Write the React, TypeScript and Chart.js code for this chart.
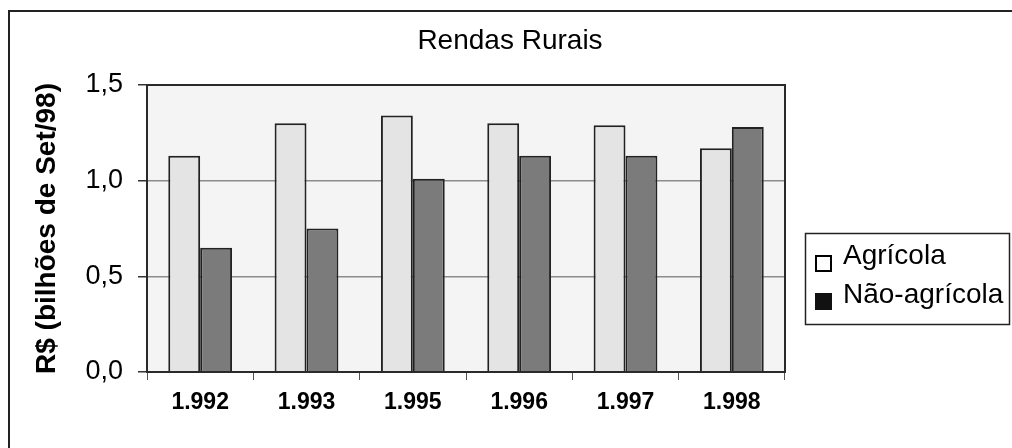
import React, { useEffect, useRef } from 'react';
import { Chart, registerables } from 'chart.js';

Chart.register(...registerables);

const categories = ['1.992', '1.993', '1.995', '1.996', '1.997', '1.998'];
const agricola = [1.13, 1.30, 1.34, 1.30, 1.29, 1.17];
const naoAgricola = [0.65, 0.75, 1.01, 1.13, 1.13, 1.28];
const seriesNames = ['Agrícola', 'Não-agrícola'];
const yTickValues = [0, 0.5, 1.0, 1.5];
const chartTitle = 'Rendas Rurais';
const yAxisTitle = 'R$ (bilhões de Set/98)';

const FONT = '"Liberation Sans", Arial, sans-serif';

const decorPlugin = {
  id: 'decor',
  beforeDraw(chart: any) {
    const { ctx, chartArea: a } = chart;
    ctx.save();
    ctx.fillStyle = '#f4f4f4';
    ctx.fillRect(a.left, a.top, a.right - a.left, a.bottom - a.top);
    ctx.restore();
  },
  afterDraw(chart: any) {
    const { ctx, chartArea: a } = chart;
    ctx.save();
    // plot frame
    ctx.strokeStyle = '#2a2a2a';
    ctx.lineWidth = 2;
    ctx.strokeRect(a.left, a.top, a.right - a.left, a.bottom - a.top);

    // chart title
    ctx.fillStyle = '#000';
    ctx.font = `28px ${FONT}`;
    ctx.textAlign = 'center';
    ctx.textBaseline = 'alphabetic';
    ctx.fillText(chartTitle, 510, 49);

    // legend box
    ctx.strokeStyle = '#222';
    ctx.lineWidth = 1.5;
    ctx.strokeRect(805.5, 233.5, 204, 91);

    ctx.textAlign = 'left';
    ctx.font = `28px ${FONT}`;
    // item 1
    ctx.fillStyle = '#ffffff';
    ctx.fillRect(815, 255, 17, 17);
    ctx.lineWidth = 2;
    ctx.strokeStyle = '#000';
    ctx.strokeRect(816, 256, 15, 15);
    ctx.fillStyle = '#000';
    ctx.fillText(seriesNames[0], 843, 264);
    // item 2
    ctx.fillStyle = '#111';
    ctx.fillRect(815, 293, 17, 17);
    ctx.fillStyle = '#000';
    ctx.fillText(seriesNames[1], 843, 303);
    ctx.restore();
  },
};

export default function App() {
  const canvasRef = useRef<HTMLCanvasElement | null>(null);

  useEffect(() => {
    const canvas = canvasRef.current;
    if (!canvas) return;
    const chart = new Chart(canvas, {
      type: 'bar',
      data: {
        labels: categories,
        datasets: [
          {
            label: seriesNames[0],
            data: agricola,
            backgroundColor: '#e4e4e4',
            borderColor: '#222',
            borderWidth: 2,
            categoryPercentage: 0.6,
            barPercentage: 1.0,
          },
          {
            label: seriesNames[1],
            data: naoAgricola,
            backgroundColor: '#7b7b7b',
            borderColor: '#222',
            borderWidth: 2,
            categoryPercentage: 0.6,
            barPercentage: 1.0,
          },
        ],
      },
      options: {
        responsive: false,
        animation: false,
        devicePixelRatio: 1,
        layout: { padding: { top: 85, right: 227, left: 0, bottom: 0 } },
        plugins: {
          legend: { display: false },
          title: { display: false },
          tooltip: { enabled: false },
        },
        scales: {
          x: {
            ticks: {
              font: { family: FONT, size: 23, weight: 'bold' },
              color: '#000',
              padding: 9,
            },
            grid: {
              drawOnChartArea: false,
              drawTicks: true,
              tickLength: 8,
              tickColor: '#555',
              offset: true,
            },
            border: { display: false },
            afterFit: (s: any) => {
              s.height = 76;
            },
          },
          y: {
            min: 0,
            max: 1.5,
            afterBuildTicks: (s: any) => {
              s.ticks = yTickValues.map((v) => ({ value: v }));
            },
            ticks: {
              callback: (v: any) => Number(v).toFixed(1).replace('.', ','),
              font: { family: FONT, size: 27 },
              color: '#000',
              padding: 15,
            },
            grid: {
              color: '#8c8c8c',
              lineWidth: 1.5,
              drawTicks: true,
              tickLength: 9,
              tickColor: '#333',
            },
            border: { display: false },
            title: {
              display: true,
              text: yAxisTitle,
              font: { family: FONT, size: 28, weight: 'bold' },
              color: '#000',
              padding: { top: 30, bottom: 0 },
            },
            afterFit: (s: any) => {
              s.width = 147;
            },
          },
        },
      },
      plugins: [decorPlugin],
    });
    return () => chart.destroy();
  }, []);

  return (
    <div
      style={{
        position: 'fixed',
        left: 0,
        top: 0,
        width: 1012,
        height: 448,
        overflow: 'hidden',
        background: '#fff',
      }}
    >
      <canvas ref={canvasRef} width={1012} height={448} style={{ display: 'block' }} />
      <div
        style={{
          position: 'absolute',
          left: 8,
          top: 10,
          width: 1100,
          height: 600,
          borderTop: '2px solid #222',
          borderLeft: '2px solid #222',
          pointerEvents: 'none',
        }}
      />
    </div>
  );
}
